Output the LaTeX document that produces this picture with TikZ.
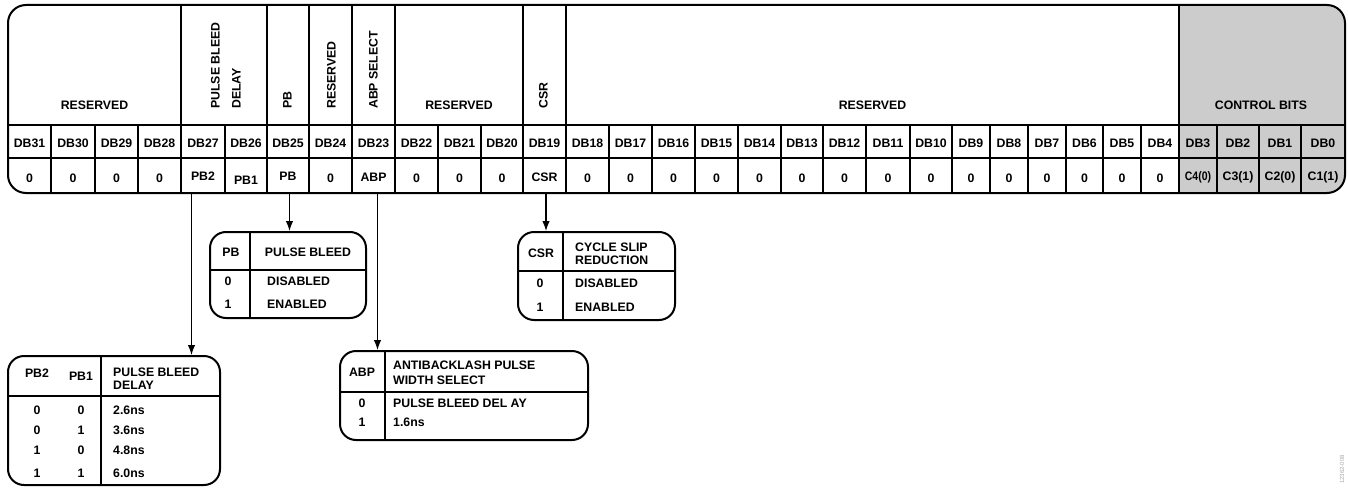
\documentclass[tikz,border=0pt]{standalone}
\usepackage{fontspec}
\setmainfont{Liberation Sans}
\usetikzlibrary{arrows.meta}
\definecolor{ctrlgray}{HTML}{CCCCCC}
\definecolor{idgray}{HTML}{AAAAAA}
\begin{document}
\begin{tikzpicture}[x=1pt,y=-1pt,
  txt/.style={inner sep=0pt, text height=9pt, text depth=0pt, font=\fontsize{12.3}{14}\selectfont\bfseries},
  rot/.style={txt, rotate=90, anchor=west},
  lft/.style={txt, anchor=west},
  outerline/.style={line width=2pt},
  innerline/.style={line width=1.3pt},
  tab/.style={draw, line width=2pt, rounded corners=16pt, inner sep=0pt},
  arr/.style={line width=1.3pt, -{Latex[length=10pt,width=7.5pt]}},
]
\useasboundingbox (0,0) rectangle (1348,487);

% ---------------- register ----------------
\begin{scope}
  \clip[rounded corners=18pt] (8,5) rectangle (1345,193);
  \fill[ctrlgray] (1179,0) rectangle (1348,200);
\end{scope}
\draw[innerline] (8,125) -- (1345,125);
\draw[innerline] (8,158) -- (1345,158);
\foreach \x in {51,95,138,181,225,267,309,352,395,438,481,523,566,609,652,695,738,781,823,866,910,952,990,1028,1066,1103,1141,1179,1217,1259,1301}
  \draw[innerline] (\x,125) -- (\x,193);
\foreach \x in {181,267,309,352,395,523,566,1179}
  \draw[innerline] (\x,5) -- (\x,125);
\draw[outerline, rounded corners=18pt] (8,5) rectangle (1345,193);

% top row labels
\node[txt] (res1) at (94.5,105) {RESERVED};
\node[rot] (pbd1) at (215,109) {PULSE BLEED};
\node[rot] (pbd2) at (236,109) {DELAY};
\node[rot] (pbh) at (287,109) {PB};
\node[rot] (res2) at (331,109) {RESERVED};
\node[rot] (abph) at (373,109) {ABP SELECT};
\node[txt] (res3) at (459,105) {RESERVED};
\node[rot] (csrh) at (543,109) {CSR};
\node[txt] (res4) at (872.5,105) {RESERVED};
\node[txt] (ctrl) at (1261,105) {CONTROL BITS};

% DB row
\foreach \l/\r/\n in {8/51/31,51/95/30,95/138/29,138/181/28,181/225/27,225/267/26,267/309/25,309/352/24,352/395/23,395/438/22,438/481/21,481/523/20,523/566/19,566/609/18,609/652/17,652/695/16,695/738/15,738/781/14,781/823/13,823/866/12,866/910/11,910/952/10,952/990/9,990/1028/8,1028/1066/7,1066/1103/6,1103/1141/5,1141/1179/4,1179/1217/3,1217/1259/2,1259/1301/1,1301/1345/0}
  \node[txt] (db\n) at ({(\l+\r)/2},143) {DB\n};

% value row
\foreach \l/\r/\n in {8/51/31,51/95/30,95/138/29,138/181/28,309/352/24,395/438/22,438/481/21,481/523/20,566/609/18,609/652/17,652/695/16,695/738/15,738/781/14,781/823/13,823/866/12,866/910/11,910/952/10,952/990/9,990/1028/8,1028/1066/7,1066/1103/6,1103/1141/5,1141/1179/4}
  \node[txt] (v\n) at ({(\l+\r)/2},177.5) {0};
\node[txt] (v27) at (203,176) {PB2};
\node[txt] (v26) at (246,180) {PB1};
\node[txt] (v25) at (288,175.5) {PB};
\node[txt] (v23) at (373.5,176.5) {ABP};
\node[txt] (v19) at (544.5,177) {CSR};
\node[txt, xscale=0.85] (v3) at (1198,176) {C4(0)};
\node[txt] (v2) at (1238,176) {C3(1)};
\node[txt] (v1) at (1280,176) {C2(0)};
\node[txt] (v0) at (1323,176) {C1(1)};

% arrow sources
\coordinate (s27) at (191.5,193);
\coordinate (s25) at (289.5,193);
\coordinate (s23) at (377.5,193);
\coordinate (s19) at (546,193);

% ---------------- tables ----------------
% pulse bleed delay
\node[tab, minimum width=212pt, minimum height=129pt] (pbdt) at (114,420.5) {};
\draw[innerline] (101,356) -- (101,485);
\draw[innerline] (8,396) -- (220,396);
\node[txt] (pbdt1) at (37,373) {PB2};
\node[txt] (pbdt2) at (81,376) {PB1};
\node[lft] (pbdt3) at (113,371.5) {PULSE BLEED};
\node[lft] (pbdt4) at (113,384.5) {DELAY};
\foreach \y/\a/\b/\t [count=\i] in {410/0/0/2.6ns,429.5/0/1/3.6ns,449.5/1/0/4.8ns,472.5/1/1/6.0ns}{
  \node[txt] (pbdA\i) at (37,\y) {\a};
  \node[txt] (pbdB\i) at (81,\y) {\b};
  \node[lft] (pbdC\i) at (113,\y) {\t};
}

% pulse bleed
\node[tab, minimum width=156pt, minimum height=86pt] (pbt) at (288,275) {};
\draw[innerline] (250,232) -- (250,318);
\draw[innerline] (210,270) -- (366,270);
\node[txt] (pbt1) at (231,252) {PB};
\node[txt] (pbt2) at (308,252) {PULSE BLEED};
\node[txt] (pbt3) at (228,281) {0};
\node[lft] (pbt4) at (267,281) {DISABLED};
\node[txt] (pbt5) at (228,303.5) {1};
\node[lft] (pbt6) at (267,303.5) {ENABLED};

% cycle slip reduction
\node[tab, minimum width=157pt, minimum height=88pt] (csrt) at (596.5,276) {};
\draw[innerline] (563,232) -- (563,320);
\draw[innerline] (518,271) -- (675,271);
\node[txt] (csrt1) at (541,253) {CSR};
\node[lft] (csrt2) at (575,247) {CYCLE SLIP};
\node[lft] (csrt3) at (575,260) {REDUCTION};
\node[txt] (csrt4) at (540,283) {0};
\node[lft] (csrt5) at (575,283) {DISABLED};
\node[txt] (csrt6) at (540,307) {1};
\node[lft] (csrt7) at (575,307) {ENABLED};

% antibacklash
\node[tab, minimum width=248pt, minimum height=89pt] (abpt) at (464,395.5) {};
\draw[innerline] (385,351) -- (385,440);
\draw[innerline] (340,392) -- (588,392);
\node[txt] (abpt1) at (362,372) {ABP};
\node[lft] (abpt2) at (393,365) {ANTIBACKLASH PULSE};
\node[lft] (abpt3) at (393,380) {WIDTH SELECT};
\node[txt] (abpt4) at (362,403) {0};
\node[lft] (abpt5) at (393,403) {PULSE BLEED DEL AY};
\node[txt] (abpt6) at (362,422) {1};
\node[lft] (abpt7) at (393,422) {1.6ns};

% ---------------- connectors ----------------
\draw[arr] (s27) -- (s27 |- pbdt.north);
\draw[arr] (s25) -- (s25 |- pbt.north);
\draw[arr] (s23) -- (s23 |- abpt.north);
\draw[arr] (s19) -- (s19 |- csrt.north);

% figure id
\node[rotate=90, anchor=west, inner sep=0pt, text=idgray, font=\fontsize{6}{7}\selectfont] (figid) at (1342,484) {12362-008};
\end{tikzpicture}
\end{document}
